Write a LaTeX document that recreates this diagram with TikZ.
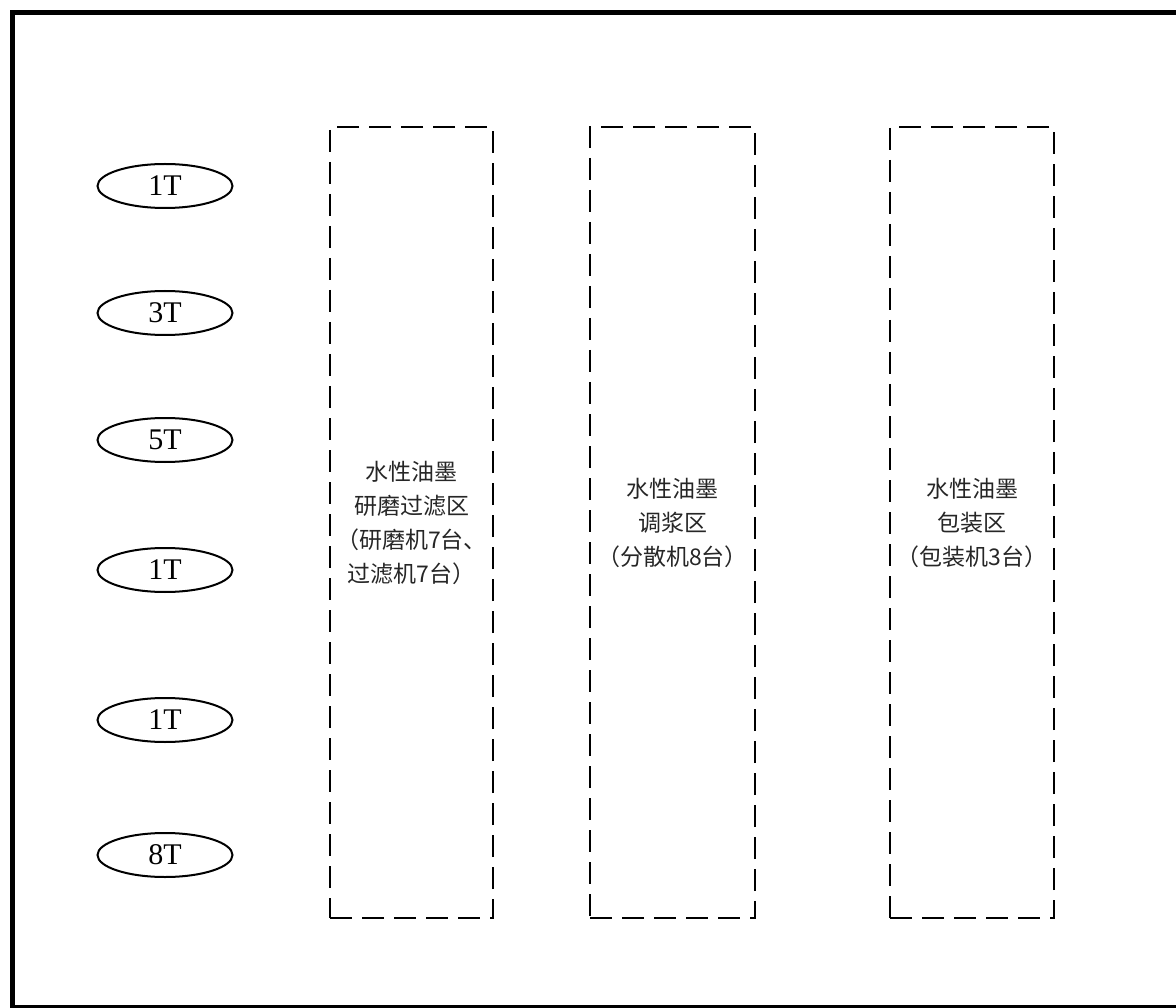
\documentclass[tikz,border=0pt]{standalone}
\usepackage{fontspec}
\setmainfont{Liberation Serif}
\newfontfamily\cjk{Noto Sans CJK SC}
\usetikzlibrary{shapes.geometric}
\begin{document}
\begin{tikzpicture}[x=1pt, y=-1pt,
    tank/.style={draw=black, line width=2pt, ellipse, minimum width=135pt,
        minimum height=44pt, inner sep=0pt, font=\fontsize{30}{30}\selectfont},
    zone/.style={draw=black, line width=2.5pt, dash pattern=on 22pt off 10pt,
        minimum height=791pt, inner sep=0pt, align=center,
        font=\cjk\fontsize{23}{34}\selectfont, text=black!85}]
    \useasboundingbox (0,0) rectangle (1176,1008);
    % workshop wall
    \draw[line width=5pt] (1176,13) -- (12,13) -- (12,1006);
    \draw[line width=3pt] (10,1006) -- (1176,1006);
    % storage tanks
    \node[tank] (tankA) at (165,186) {1T};
    \node[tank] (tankB) at (165,313) {3T};
    \node[tank] (tankC) at (165,440) {5T};
    \node[tank] (tankD) at (165,570) {1T};
    \node[tank] (tankE) at (165,720) {1T};
    \node[tank] (tankF) at (165,855) {8T};
    % process zones
    \node[zone, minimum width=163pt] (grind) at (411.5,522.5)
        {水性油墨\\研磨过滤区\\（研磨机7台、\\过滤机7台）};
    \node[zone, minimum width=165pt] (mix) at (672.5,522.5)
        {水性油墨\\调浆区\\（分散机8台）};
    \node[zone, minimum width=164pt] (pack) at (972,522.5)
        {水性油墨\\包装区\\（包装机3台）};
\end{tikzpicture}
\end{document}
